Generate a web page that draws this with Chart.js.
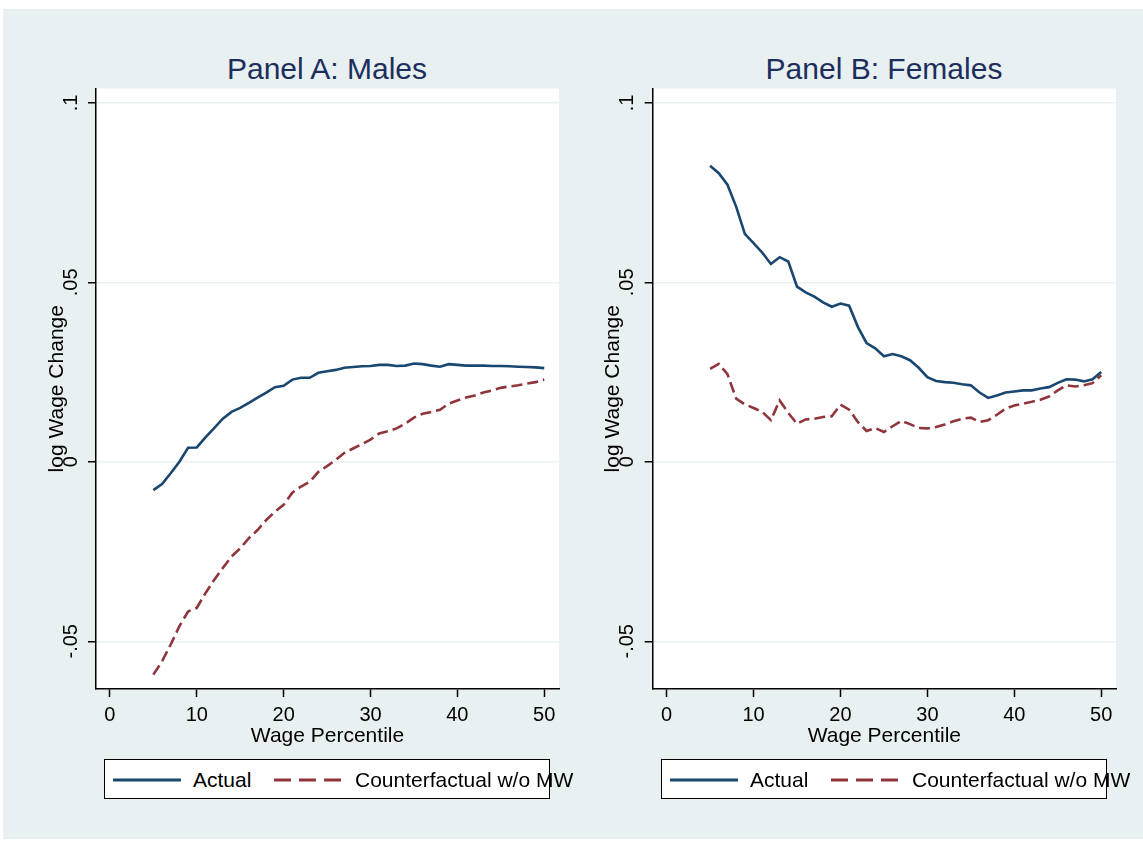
<!DOCTYPE html>
<html>
<head>
<meta charset="utf-8">
<script src="https://cdn.jsdelivr.net/npm/chart.js@4"></script>
<style>
  body { margin: 0; background: #fff; width: 1143px; height: 841px; position: relative; overflow: hidden;
         font-family: "Liberation Sans", Arial, sans-serif; }
  .bg { position: absolute; left: 3px; top: 9px; width: 1140px; height: 830px; background: #e8f0f2; }
  canvas { position: absolute; }
  .title { position: absolute; top: 52px; width: 400px; text-align: center; font-size: 30px; color: #1c2f5c; }
  .legend { position: absolute; top: 759px; height: 40px; width: 446px; border: 1px solid #000;
            background: #fff; box-sizing: border-box; font-size: 21px; color: #000; white-space: nowrap; }
  .legend svg { position: absolute; top: 0; }
  .legend span { position: absolute; top: 8px; }
</style>
</head>
<body>
<div class="bg"></div>
<div class="title" style="left:127px">Panel A: Males</div>
<div class="title" style="left:684px">Panel B: Females</div>
<canvas id="males" width="580" height="680" style="left:0;top:80px"></canvas>
<canvas id="females" width="563" height="680" style="left:580px;top:80px"></canvas>

<div class="legend" style="left:104px">
  <svg width="250" height="40"><line x1="8" y1="20" x2="76" y2="20" stroke="#1a476f" stroke-width="3"/>
  <line x1="169" y1="20" x2="237" y2="20" stroke="#90353b" stroke-width="3" stroke-dasharray="17,8"/></svg>
  <span style="left:88px">Actual</span><span style="left:250px">Counterfactual w/o MW</span>
</div>
<div class="legend" style="left:661px">
  <svg width="250" height="40"><line x1="8" y1="20" x2="76" y2="20" stroke="#1a476f" stroke-width="3"/>
  <line x1="169" y1="20" x2="237" y2="20" stroke="#90353b" stroke-width="3" stroke-dasharray="17,8"/></svg>
  <span style="left:88px">Actual</span><span style="left:250px">Counterfactual w/o MW</span>
</div>

<script>
// Wage percentiles 5..50
const percentiles = [];
for (let p = 5; p <= 50; p++) percentiles.push(p);

const maleActual = [
  -0.0079, -0.0062, -0.0032, 0.0000, 0.0039, 0.0040,
  0.0068, 0.0094, 0.0120, 0.0139, 0.0150, 0.0164, 0.0179, 0.0193, 0.0208, 0.0212,
  0.0229, 0.0234, 0.0234, 0.0248, 0.0252, 0.0256, 0.0262, 0.0264, 0.0266, 0.0267,
  0.0270, 0.0270, 0.0267, 0.0268, 0.0274, 0.0272, 0.0268, 0.0265, 0.0272, 0.0270,
  0.0268, 0.0268, 0.0268, 0.0267, 0.0267, 0.0266, 0.0265, 0.0264, 0.0263, 0.0261
];
const maleCounterfactual = [
  -0.0593, -0.0556, -0.0509, -0.0458, -0.0417, -0.0407,
  -0.0366, -0.0329, -0.0296, -0.0264, -0.0241, -0.0213, -0.0190, -0.0162, -0.0139, -0.0120,
  -0.0086, -0.0069, -0.0056, -0.0028, -0.0012, 0.0005, 0.0025, 0.0037, 0.0049, 0.0062,
  0.0079, 0.0085, 0.0093, 0.0106, 0.0123, 0.0134, 0.0139, 0.0145, 0.0162, 0.0171,
  0.0179, 0.0185, 0.0193, 0.0199, 0.0206, 0.0210, 0.0213, 0.0218, 0.0222, 0.0229
];
const femaleActual = [
  0.0825, 0.0804, 0.0772, 0.0711, 0.0635, 0.0609,
  0.0583, 0.0551, 0.0570, 0.0558, 0.0488, 0.0472, 0.0460, 0.0444, 0.0432, 0.0441,
  0.0435, 0.0376, 0.0331, 0.0316, 0.0294, 0.0300, 0.0294, 0.0283, 0.0262, 0.0236,
  0.0225, 0.0222, 0.0220, 0.0216, 0.0213, 0.0193, 0.0178, 0.0185, 0.0193, 0.0196,
  0.0199, 0.0199, 0.0204, 0.0208, 0.0220, 0.0230, 0.0229, 0.0224, 0.0230, 0.0250
];
const femaleCounterfactual = [
  0.0259, 0.0273, 0.0244, 0.0176, 0.0160, 0.0150,
  0.0139, 0.0116, 0.0171, 0.0136, 0.0106, 0.0118, 0.0120, 0.0125, 0.0127, 0.0159,
  0.0145, 0.0111, 0.0086, 0.0094, 0.0083, 0.0099, 0.0114, 0.0105, 0.0094, 0.0093,
  0.0097, 0.0104, 0.0113, 0.0120, 0.0123, 0.0111, 0.0116, 0.0131, 0.0148, 0.0157,
  0.0162, 0.0167, 0.0173, 0.0182, 0.0199, 0.0213, 0.0210, 0.0213, 0.0219, 0.0241
];

const xTicks = [0, 10, 20, 30, 40, 50];
const yTicks = [-0.05, 0, 0.05, 0.1];
const yTickLabels = ['-.05', '0', '.05', '.1'];

const FONT = '"Liberation Sans", Arial, sans-serif';

// White plot region + rotated Stata-style y labels
const stataPlugin = {
  id: 'stata',
  beforeDraw(chart) {
    const a = chart.chartArea, ctx = chart.ctx;
    ctx.save();
    ctx.fillStyle = '#ffffff';
    ctx.fillRect(a.left, a.top, a.right - a.left, a.bottom - a.top);
    ctx.restore();
  },
  afterDraw(chart) {
    const ctx = chart.ctx, y = chart.scales.y, a = chart.chartArea;
    ctx.save();
    ctx.fillStyle = '#000';
    ctx.textAlign = 'center';
    ctx.textBaseline = 'middle';
    ctx.font = '20px ' + FONT;
    yTicks.forEach((v, i) => {
      ctx.save();
      ctx.translate(a.left - 25, y.getPixelForValue(v));
      ctx.rotate(-Math.PI / 2);
      ctx.fillText(yTickLabels[i], 0, 0);
      ctx.restore();
    });
    ctx.font = '21px ' + FONT;
    ctx.translate(a.left - 39, (a.top + a.bottom) / 2);
    ctx.rotate(-Math.PI / 2);
    ctx.fillText('log Wage Change', 0, 0);
    ctx.restore();
  }
};

function makePanel(id, actual, counterfactual, yAxisWidth, rightPad) {
  const ctx = document.getElementById(id).getContext('2d');
  return new Chart(ctx, {
    type: 'line',
    data: {
      datasets: [{
        label: 'Actual',
        data: percentiles.map((p, i) => ({ x: p, y: actual[i] })),
        borderColor: '#1a476f',
        borderWidth: 2.6,
        pointRadius: 0,
        tension: 0
      }, {
        label: 'Counterfactual w/o MW',
        data: percentiles.map((p, i) => ({ x: p, y: counterfactual[i] })),
        borderColor: '#90353b',
        borderWidth: 2.6,
        borderDash: [11, 5],
        pointRadius: 0,
        tension: 0
      }]
    },
    options: {
      responsive: false,
      animation: false,
      devicePixelRatio: 1,
      layout: { padding: { top: 8.5, right: rightPad, left: 0, bottom: 0 } },
      plugins: { legend: { display: false }, tooltip: { enabled: false } },
      scales: {
        x: {
          type: 'linear',
          min: -1.6,
          max: 51.7,
          afterBuildTicks: s => { s.ticks = xTicks.map(v => ({ value: v })); },
          afterFit: s => { s.height = 71; },
          border: { color: '#000', width: 1.5 },
          grid: { drawOnChartArea: false, tickColor: '#000', tickLength: 8, tickWidth: 1.5 },
          ticks: { color: '#000', padding: 6, maxRotation: 0, font: { family: FONT, size: 20 } },
          title: { display: true, text: 'Wage Percentile', color: '#000',
                   padding: { top: 0, bottom: 11 }, font: { family: FONT, size: 21 } }
        },
        y: {
          min: -0.0633,
          max: 0.104,
          afterBuildTicks: s => { s.ticks = yTicks.map(v => ({ value: v })); },
          afterFit: s => { s.width = yAxisWidth; },
          border: { color: '#000', width: 1.5 },
          grid: { color: '#eaf2f3', lineWidth: 1.5, tickColor: '#000', tickLength: 8, tickWidth: 1.5 },
          ticks: { display: false }
        }
      }
    },
    plugins: [stataPlugin]
  });
}

makePanel('males', maleActual, maleCounterfactual, 96, 21);
makePanel('females', femaleActual, femaleCounterfactual, 72.7, 27);
</script>
</body>
</html>
